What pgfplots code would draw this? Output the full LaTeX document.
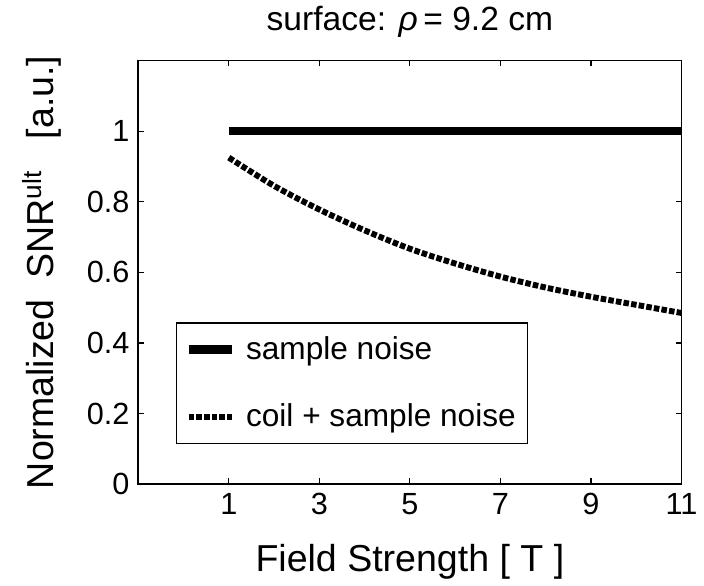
\documentclass[border=0pt]{standalone}
\usepackage{fontspec}
\setmainfont{Liberation Sans}
\usepackage{pgfplots}
\pgfplotsset{compat=1.18}
\begin{document}
\begin{tikzpicture}
\begin{axis}[
  scale only axis, width=275pt, height=214.5pt,
  xmin=-1, xmax=11, ymin=0, ymax=1.2,
  xtick={1,3,5,7,9,11},
  ytick={0,0.2,0.4,0.6,0.8,1},
  yticklabels={0,0.2,0.4,0.6,0.8,1},
  /pgf/number format/assume math mode=true,
  ticklabel style={font=\fontsize{15.5}{18}\selectfont},
  xticklabel style={yshift=-1pt},
  yticklabel style={xshift=-1pt},
  tick align=inside, major tick length=3pt,
  tick style={black, line width=0.6pt},
  axis line style={line width=0.8pt},
  title={surface: {\itshape ρ}\,= 9.2 cm},
  title style={font=\fontsize{17}{20}\selectfont, at={(axis description cs:0.5,1)}, anchor=base, yshift=9pt},
  xlabel={Field Strength [ T ]},
  ylabel={Normalized\ \ SNR\textsuperscript{ult}\ \ \ [a.u.]},
  label style={font=\fontsize{19}{22}\selectfont},
  xlabel style={at={(axis description cs:0.5,0)}, anchor=base, yshift=-44pt},
  ylabel style={at={(axis description cs:0,0.5)}, anchor=center, yshift=48.75pt},
  legend style={at={(0.069,0.094)}, anchor=south west, draw=black, line width=0.8pt,
    font=\fontsize{16}{18}\selectfont, row sep=17pt, column sep=3pt, inner ysep=5pt, inner xsep=4pt},
  legend cell align=left,
  legend image code/.code={\draw[#1] (0pt,0pt) -- (22pt,0pt);},
]
\addplot[black, line width=4.2pt] coordinates {(1,1) (3,1) (5,1) (7,1) (9,1) (11,1)};
\addlegendentry{sample noise}
\addplot[black, line width=3pt, dash pattern=on 2.8pt off 1.1pt, smooth] coordinates {
(1,0.925) (2,0.845) (3,0.778) (4,0.719) (5,0.667) (6,0.625) (7,0.588) (8,0.557) (9,0.531) (10,0.508) (11,0.485)};
\addlegendentry{coil + sample noise}
\end{axis}
\path ([xshift=-70pt,yshift=-48.5pt]current axis.south west) rectangle ([xshift=7pt,yshift=26.5pt]current axis.north east);
\end{tikzpicture}
\end{document}
